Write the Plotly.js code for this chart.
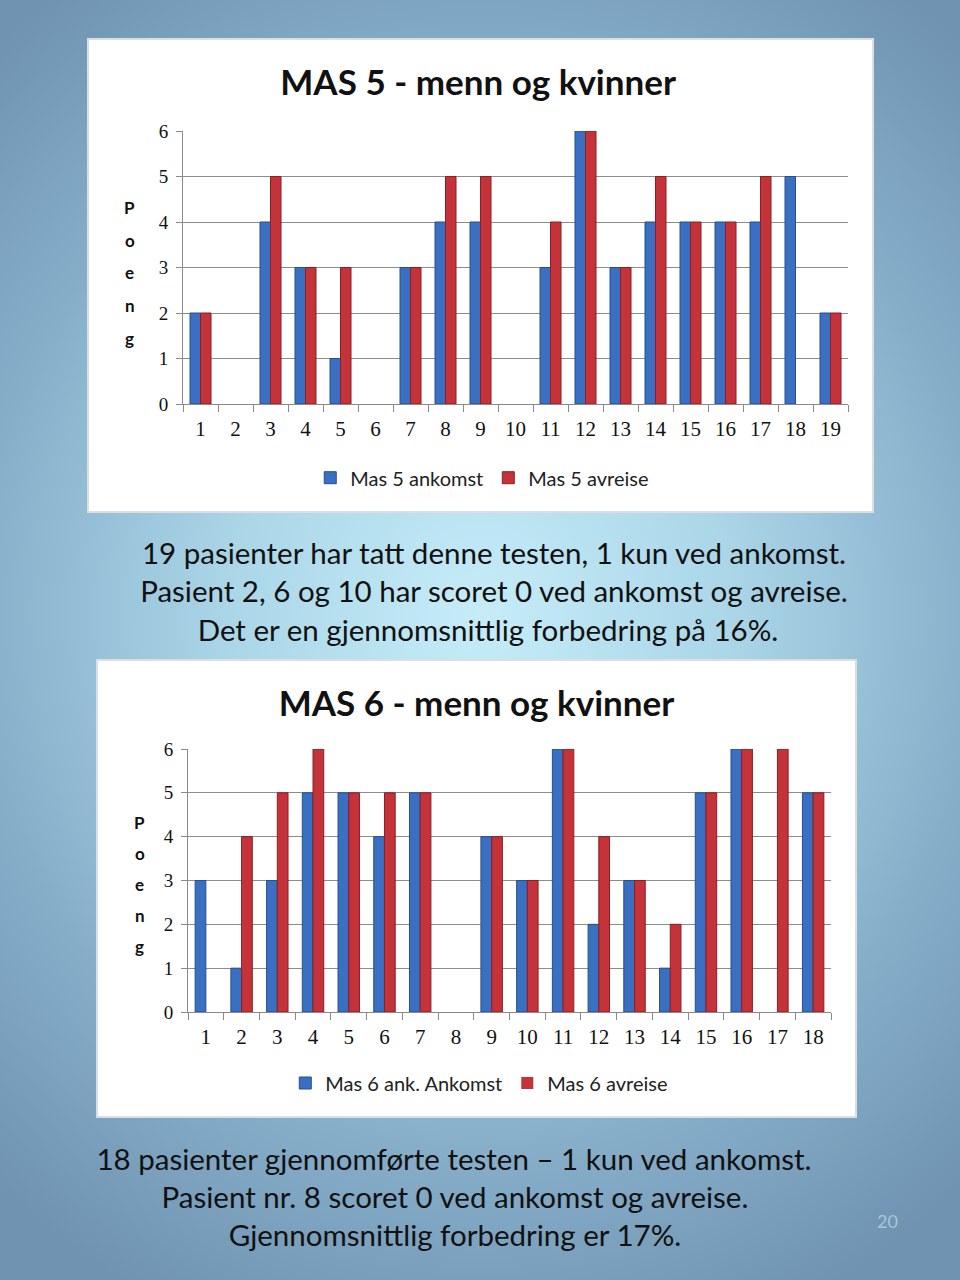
<!DOCTYPE html>
<html>
<head>
<meta charset="utf-8">
<script src="https://cdn.plot.ly/plotly-3.0.1.min.js"></script>
<style>
  html, body { margin:0; padding:0; }
  body {
    width:960px; height:1280px; position:relative; overflow:hidden;
    background: radial-gradient(ellipse 75% 60% at 50% 48%, #c6ecf8 0%, #aad6e8 35%, #86aec9 70%, #6f93b1 100%);
    font-family: Lato, "Open Sans", sans-serif;
  }
  .box { position:absolute; background:#fff; border:2px solid #d9dfe3; box-sizing:border-box; }
  .txt { position:absolute; left:0; width:960px; text-align:center; color:#111; font-family: Lato, sans-serif; white-space:nowrap; font-size:29.5px; }
  .pg { position:absolute; color:#a7c6da; font-family: Lato, sans-serif; font-size:18px; }
</style>
</head>
<body>
<div id="c1" class="box" style="left:87px; top:38px; width:787px; height:475px;"></div>
<div id="c2" class="box" style="left:96px; top:659px; width:761px; height:459px;"></div>

<div class="txt" style="top:535px; left:14px;">19 pasienter har tatt denne testen, 1 kun ved ankomst.</div>
<div class="txt" style="top:573px; left:14px;">Pasient 2, 6 og 10 har scoret 0 ved ankomst og avreise.</div>
<div class="txt" style="top:612px; left:8px;">Det er en gjennomsnittlig forbedring på 16%.</div>

<div class="txt" style="top:1141px; left:-26px;">18 pasienter gjennomførte testen – 1 kun ved ankomst.</div>
<div class="txt" style="top:1179px; left:-25px;">Pasient nr. 8 scoret 0 ved ankomst og avreise.</div>
<div class="txt" style="top:1217px; left:-25px;">Gjennomsnittlig forbedring er 17%.</div>
<div class="pg" style="left:877px; top:1210px;">20</div>

<script>
// ---- Data ----
const mas5Patients = ['1','2','3','4','5','6','7','8','9','10','11','12','13','14','15','16','17','18','19'];
const mas5Ankomst  = [2,0,4,3,1,0,3,4,4,0,3,6,3,4,4,4,4,5,2];
const mas5Avreise  = [2,0,5,3,3,0,3,5,5,0,4,6,3,5,4,4,5,0,2];
const mas5Names    = ['Mas 5 ankomst','Mas 5 avreise'];
const mas5Title    = 'MAS 5 - menn og kvinner';

const mas6Patients = ['1','2','3','4','5','6','7','8','9','10','11','12','13','14','15','16','17','18'];
const mas6Ankomst  = [3,1,3,5,5,4,5,0,4,3,6,2,3,1,5,6,0,5];
const mas6Avreise  = [0,4,5,6,5,5,5,0,4,3,6,4,3,2,5,6,6,5];
const mas6Names    = ['Mas 6 ank. Ankomst','Mas 6 avreise'];
const mas6Title    = 'MAS 6 - menn og kvinner';

const yTicks = [0,1,2,3,4,5,6];
const yLabel = 'Poeng';

const BLUE = '#3a6fc2', BLUE_EDGE = '#24508f';
const RED = '#c4323a', RED_EDGE = '#8a1f24';

function makeChart(id, cats, a, b, names, title, cfg) {
  const traces = [
    {type:'bar', x:cats, y:a, name:names[0], marker:{color:BLUE, line:{color:BLUE_EDGE, width:a.map(v => v > 0 ? 1 : 0)}}},
    {type:'bar', x:cats, y:b, name:names[1], marker:{color:RED, line:{color:RED_EDGE, width:b.map(v => v > 0 ? 1 : 0)}}}
  ];
  const letters = yLabel.split('');
  const annotations = letters.map((ch, i) => ({
    text: ch, xref:'paper', yref:'paper', x: cfg.letterX, y: cfg.letterY0 - i*cfg.letterStep,
    showarrow:false, xanchor:'center', yanchor:'middle',
    font:{family:'Lato, sans-serif', size:17, color:'#111', weight:'bold'}
  }));
  const layout = {
    width: cfg.w, height: cfg.h,
    margin:{l:cfg.ml, r:cfg.mr, t:cfg.mt, b:cfg.mb},
    paper_bgcolor:'#ffffff', plot_bgcolor:'#ffffff',
    barmode:'group', bargap:0.4, bargroupgap:0,
    title:{text:'<b>'+title+'</b>', x:cfg.titleX, xanchor:'center', y:cfg.titleY, yanchor:'middle', yref:'container',
           font:{family:'Lato, sans-serif', size:35, color:'#111'}},
    xaxis:{type:'category', showgrid:false, showline:true, linecolor:'#8a8a8a', linewidth:1,
           ticks:'outside', tickson:'boundaries', ticklen:7, tickcolor:'#8a8a8a',
           tickfont:{family:'"Liberation Serif", serif', size:21, color:'#111'}, ticklabelstandoff:6},
    yaxis:{range:[0,6], tickvals:yTicks, showgrid:true, gridcolor:'#8c8c8c', gridwidth:1,
           showline:true, linecolor:'#8a8a8a', ticks:'outside', ticklen:6, tickcolor:'#8a8a8a',
           zeroline:false,
           tickfont:{family:'"Liberation Serif", serif', size:19, color:'#111'}, ticklabelstandoff:4},
    showlegend:true,
    legend:{orientation:'h', x:cfg.legX, xanchor:'center', y:cfg.legY, yanchor:'middle',
            font:{family:'Lato, sans-serif', size:20, color:'#222'}, itemwidth:30, traceorder:'normal'},
    annotations: annotations
  };
  Plotly.newPlot(id, traces, layout, {displayModeBar:false, staticPlot:true});
}

makeChart('c1', mas5Patients, mas5Ankomst, mas5Avreise, mas5Names, mas5Title, {
  w:783, h:471, ml:94, mr:24, mt:91, mb:107,
  titleX:0.497, titleY:0.91, legX:0.45, legY:-0.27,
  letterX:-0.08, letterY0:0.72, letterStep:0.12
});
makeChart('c2', mas6Patients, mas6Ankomst, mas6Avreise, mas6Names, mas6Title, {
  w:757, h:455, ml:90, mr:24, mt:88, mb:104,
  titleX:0.5, titleY:0.905, legX:0.453, legY:-0.27,
  letterX:-0.075, letterY0:0.72, letterStep:0.118
});
</script>
</body>
</html>
